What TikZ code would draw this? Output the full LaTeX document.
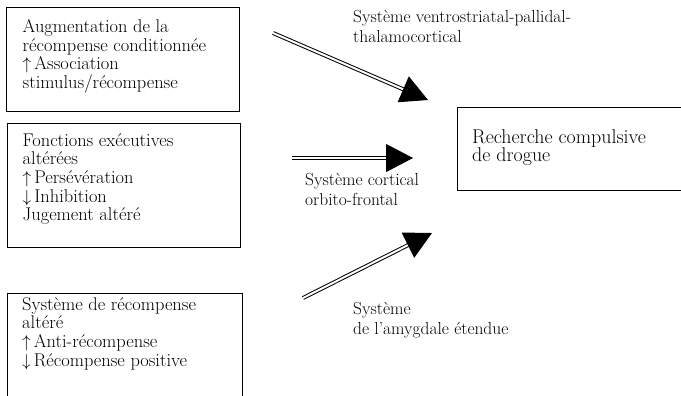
\documentclass[tikz,border=0pt]{standalone}
\usetikzlibrary{arrows.meta,positioning}
\begin{document}
\begin{tikzpicture}[x=1bp,y=-1bp,
  boite/.style={draw, line width=0.9bp, inner sep=0pt, anchor=north west},
  texte/.style={anchor=north west, inner sep=0pt, align=left, font=\fontsize{18.5}{18.7}\selectfont},
  legende/.style={anchor=north west, inner sep=0pt, align=left, font=\fontsize{17.5}{20}\selectfont},
  voie/.style={double, double distance=2bp, line width=1bp, -{Triangle[length=27bp,width=28bp]}}]
\useasboundingbox (0,0) rectangle (681,395);
\clip (0,0) rectangle (681,395);
% boites de gauche
\node[boite, minimum width=233bp, minimum height=104bp] (recomp) at (6,7) {};
\node[texte] (t-recomp) at (22.5,19.2) {Augmentation de la\\récompense conditionnée\\$\uparrow$\,Association\\stimulus/récompense};
\node[boite, minimum width=233bp, minimum height=124bp] (exec) at (6.5,122.5) {};
\node[texte] (t-exec) at (22.5,133.2) {Fonctions exécutives\\altérées\\$\uparrow$\,Persévération\\$\downarrow$\,Inhibition\\Jugement altéré};
\node[boite, minimum width=235bp, minimum height=130bp] (amyg) at (6.5,292.5) {};
\node[texte] (t-amyg) at (22,297.2) {Système de récompense\\altéré\\$\uparrow$\,Anti-récompense\\$\downarrow$\,Récompense positive};
% boite de droite
\node[boite, minimum width=240bp, minimum height=83bp] (drogue) at (457,107) {};
\node[texte, font=\fontsize{20}{18.4}\selectfont] (t-drogue) at (472,129.4) {Recherche compulsive\\de drogue};
% voies
\coordinate (d1) at (273,33);
\coordinate (f1) at (428,100);
\coordinate (d2) at (292,158);
\coordinate (f2) at (413,158);
\coordinate (d3) at (303,298);
\coordinate (f3) at (432,233);
\draw[voie] (d1) -- (f1);
\draw[voie] (d2) -- (f2);
\draw[voie] (d3) -- (f3);
\node[legende] (l1) at (353,10.6) {Système ventrostriatal-pallidal-\\thalamocortical};
\node[legende] (l2) at (305,173.6) {Système cortical\\orbito-frontal};
\node[legende] (l3) at (353,302) {Système\\de l’amygdale étendue};
\end{tikzpicture}
\end{document}
